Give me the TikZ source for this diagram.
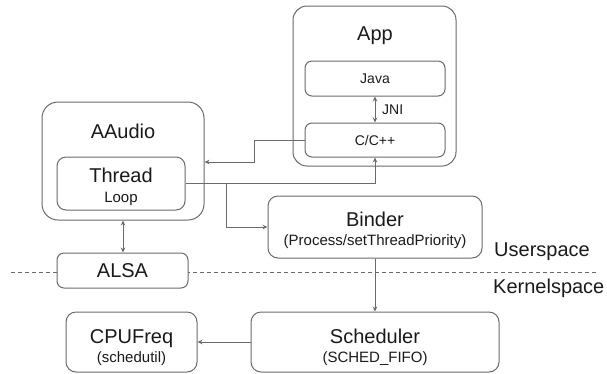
\documentclass[tikz,border=0pt]{standalone}
\usepackage{fontspec}
\setmainfont{Liberation Sans}
\usetikzlibrary{arrows.meta}
\definecolor{edge}{HTML}{6A6A6A}
\definecolor{txt}{HTML}{1A1A1A}
\begin{document}
\begin{tikzpicture}[x=1pt,y=-1pt,
  box/.style={draw=edge, line width=1pt, fill=white, rounded corners=8pt, inner sep=0pt},
  big/.style={font=\fontsize{20}{24}\selectfont, text=txt, inner sep=0pt},
  small/.style={font=\fontsize{15}{18}\selectfont, text=txt, inner sep=0pt},
  mid/.style={font=\fontsize{14}{17}\selectfont, text=txt, inner sep=0pt},
  conn/.style={draw=edge, line width=1pt, -{Stealth[length=5pt,width=4.5pt]}},
  bconn/.style={draw=edge, line width=1pt, {Stealth[length=5pt,width=4.5pt]}-{Stealth[length=5pt,width=4.5pt]}},
]
\useasboundingbox (0,0) rectangle (607,373);

% dashed separator
\coordinate (dl) at (11,272);
\coordinate (dr) at (597,272);
\draw[edge, line width=0.9pt, dash pattern=on 4pt off 3pt] (dl) -- (dr);

% App
\node[box, rounded corners=14pt, minimum width=163pt, minimum height=160pt] (app) at (374.5,86) {};
\node[big, anchor=base] (applbl) at (375,40) {App};
\node[box, rounded corners=7pt, minimum width=140pt, minimum height=35pt, mid] (java) at (375,78.5) {Java};
\node[box, rounded corners=7pt, minimum width=140pt, minimum height=34pt, mid] (cc) at (375,140) {C/C++};
\node[mid, anchor=west] (jni) at (382,110) {JNI};

% AAudio
\node[box, rounded corners=16pt, minimum width=162pt, minimum height=118pt] (aaudio) at (123,161) {};
\node[big, anchor=base] (aalbl) at (123,138) {AAudio};
\node[box, rounded corners=9pt, minimum width=128pt, minimum height=53pt] (thread) at (121,183.5) {};
\node[big, anchor=base] (thlbl) at (121,182) {Thread};
\node[small, anchor=base] (looplbl) at (121,202) {Loop};

% ALSA
\node[box, rounded corners=7pt, minimum width=131pt, minimum height=35pt, big] (alsa) at (122.5,270.5) {ALSA};

% Binder
\node[box, rounded corners=10pt, minimum width=214pt, minimum height=62pt] (binder) at (375,227) {};
\node[big, anchor=base] (binlbl) at (375,226) {Binder};
\node[small, anchor=base] (binsub) at (375,245) {(Process/setThreadPriority)};

% Kernel
\node[box, rounded corners=10pt, minimum width=131pt, minimum height=60pt] (cpufreq) at (131.5,342) {};
\node[big, anchor=base] (cpulbl) at (131.5,343) {CPUFreq};
\node[small, anchor=base] (cpusub) at (131.5,362) {(schedutil)};
\node[box, rounded corners=10pt, minimum width=248pt, minimum height=60pt] (sched) at (375,342) {};
\node[big, anchor=base] (schlbl) at (375,343) {Scheduler};
\node[small, anchor=base] (schsub) at (375,362) {(SCHED\_FIFO)};

% space labels
\node[big, anchor=base west] (user) at (494,256) {Userspace};
\node[big, anchor=base west] (kern) at (493,293) {Kernelspace};

% connectors
\draw[bconn] (java.south) -- (cc.north);
\coordinate (c1) at (254,140);
\coordinate (c2) at (254,162);
\draw[conn] (cc.west) -- (c1) -- (c2) -- (aaudio.east |- c2);
\draw[conn] (thread.east) -| (cc.south);
\coordinate (br) at (226,183.5);
\draw[conn] (br) |- (binder.west);
\draw[bconn] (aaudio.south) -- (aaudio.south |- alsa.north);
\draw[conn] (binder.south) -- (sched.north);
\draw[conn] (sched.west) -- (cpufreq.east);
\end{tikzpicture}
\end{document}
